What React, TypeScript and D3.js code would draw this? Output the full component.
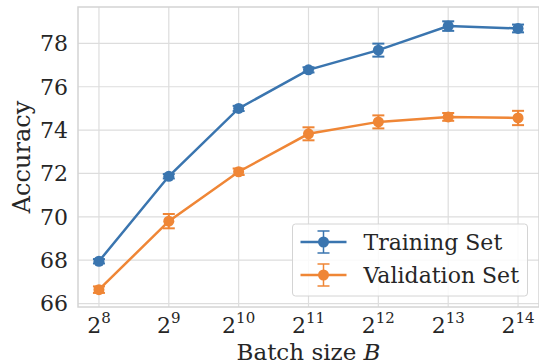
import React, { useEffect, useRef } from 'react';
import * as d3 from 'd3';

const exponents = [8, 9, 10, 11, 12, 13, 14];
const trainMean = [67.95, 71.87, 75.0, 76.78, 77.69, 78.8, 78.69];
const trainErr = [0.1, 0.1, 0.12, 0.12, 0.3, 0.22, 0.18];
const valMean = [66.64, 69.8, 72.08, 73.83, 74.38, 74.61, 74.56];
const valErr = [0.15, 0.33, 0.15, 0.3, 0.3, 0.18, 0.33];
const yTicks = [66, 68, 70, 72, 74, 76, 78];

const series = [
  { name: 'Training Set', mean: trainMean, err: trainErr, color: '#3a75af' },
  { name: 'Validation Set', mean: valMean, err: valErr, color: '#ef8636' },
];

const App: React.FC = () => {
  const ref = useRef<SVGSVGElement>(null);

  useEffect(() => {
    const svg = d3.select(ref.current);
    svg.selectAll('*').remove();

    const W = 539, H = 364;
    const margin = { top: 7, right: 0, bottom: 57, left: 78 };
    const width = W - margin.left - margin.right;
    const height = H - margin.top - margin.bottom;
    const font = 'DejaVu Serif';
    const textColor = '#262626';

    const x = d3.scaleLinear().domain([7.7, 14.3]).range([0, width]);
    const y = d3.scaleLinear().domain([65.84, 79.68]).range([height, 0]);

    const g = svg.append('g').attr('transform', `translate(${margin.left},${margin.top})`);

    // grid
    g.selectAll('.gx').data(exponents).enter().append('line')
      .attr('x1', d => x(d)).attr('x2', d => x(d))
      .attr('y1', 0).attr('y2', height)
      .attr('stroke', '#dddddd').attr('stroke-width', 1.2);
    g.selectAll('.gy').data(yTicks).enter().append('line')
      .attr('x1', 0).attr('x2', width)
      .attr('y1', d => y(d)).attr('y2', d => y(d))
      .attr('stroke', '#dddddd').attr('stroke-width', 1.2);

    // frame
    g.append('rect')
      .attr('x', 0).attr('y', 0).attr('width', width).attr('height', height)
      .attr('fill', 'none').attr('stroke', '#d4d4d4').attr('stroke-width', 1.5);

    // y tick labels
    g.selectAll('.yt').data(yTicks).enter().append('text')
      .attr('x', -10).attr('y', d => y(d)).attr('dy', '0.36em')
      .attr('text-anchor', 'end')
      .style('font-family', font).style('font-size', '22px').attr('fill', textColor)
      .text(d => d);

    // x tick labels with superscripts
    const xt = g.selectAll('.xt').data(exponents).enter().append('text')
      .attr('x', d => x(d)).attr('y', height + 26)
      .attr('text-anchor', 'middle')
      .style('font-family', font).style('font-size', '22px').attr('fill', textColor);
    xt.append('tspan').text('2');
    xt.append('tspan').attr('dy', -10).style('font-size', '15px').text(d => d);

    // axis labels
    svg.append('text')
      .attr('x', margin.left + width / 2).attr('y', H - 4)
      .attr('text-anchor', 'middle')
      .style('font-family', font).style('font-size', '23px').attr('fill', textColor)
      .call(t => {
        t.append('tspan').text('Batch size ');
        t.append('tspan').style('font-style', 'italic').text('B');
      });
    svg.append('text')
      .attr('transform', `translate(30,${margin.top + height / 2}) rotate(-90)`)
      .attr('text-anchor', 'middle')
      .style('font-family', font).style('font-size', '24px').attr('fill', textColor)
      .text('Accuracy');

    const line = d3.line<number>()
      .x((_, i) => x(exponents[i]))
      .y(d => y(d));

    series.forEach(s => {
      g.append('path')
        .datum(s.mean)
        .attr('fill', 'none').attr('stroke', s.color).attr('stroke-width', 2.5)
        .attr('d', line);

      const eb = g.selectAll(null).data(s.mean).enter().append('g');
      eb.append('line')
        .attr('x1', (_, i) => x(exponents[i])).attr('x2', (_, i) => x(exponents[i]))
        .attr('y1', (d, i) => y(d - s.err[i])).attr('y2', (d, i) => y(d + s.err[i]))
        .attr('stroke', s.color).attr('stroke-width', 2);
      [-1, 1].forEach(sign => {
        eb.append('line')
          .attr('x1', (_, i) => x(exponents[i]) - 6).attr('x2', (_, i) => x(exponents[i]) + 6)
          .attr('y1', (d, i) => y(d + sign * s.err[i])).attr('y2', (d, i) => y(d + sign * s.err[i]))
          .attr('stroke', s.color).attr('stroke-width', 2);
      });
      eb.append('circle')
        .attr('cx', (_, i) => x(exponents[i])).attr('cy', d => y(d))
        .attr('r', 5.5).attr('fill', s.color);
    });

    // legend
    const lx = 292.5 - margin.left, ly = 224 - margin.top;
    const leg = g.append('g').attr('transform', `translate(${lx},${ly})`);
    leg.append('rect')
      .attr('width', 235).attr('height', 72).attr('rx', 3)
      .attr('fill', 'white').attr('fill-opacity', 0.85)
      .attr('stroke', '#d4d4d4').attr('stroke-width', 1);
    series.forEach((s, i) => {
      const cy = 18 + i * 33;
      const row = leg.append('g').attr('transform', `translate(0,${cy})`);
      row.append('line').attr('x1', 8).attr('x2', 54).attr('y1', 0).attr('y2', 0)
        .attr('stroke', s.color).attr('stroke-width', 2.5);
      row.append('line').attr('x1', 31).attr('x2', 31).attr('y1', -11).attr('y2', 11)
        .attr('stroke', s.color).attr('stroke-width', 1.5);
      [-11, 11].forEach(dy => {
        row.append('line').attr('x1', 25).attr('x2', 37).attr('y1', dy).attr('y2', dy)
          .attr('stroke', s.color).attr('stroke-width', 1.5);
      });
      row.append('circle').attr('cx', 31).attr('cy', 0).attr('r', 5.5).attr('fill', s.color);
      row.append('text')
        .attr('x', 71).attr('y', 0).attr('dy', '0.36em')
        .style('font-family', font).style('font-size', '22px').attr('fill', textColor)
        .text(s.name);
    });
  }, []);

  return (
    <svg ref={ref} width={539} height={364} style={{ position: 'absolute', left: 0, top: 0, background: 'white' }} />
  );
};

export default App;
